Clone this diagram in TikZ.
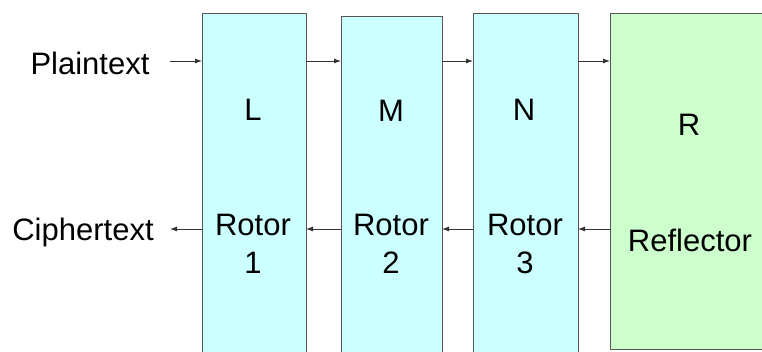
\documentclass[tikz,border=0pt]{standalone}
\usepackage{fontspec}
\setmainfont{Liberation Sans}
\usetikzlibrary{arrows.meta}
\definecolor{rotorfill}{HTML}{CCFFFF}
\definecolor{reflfill}{HTML}{CCFFCC}
\definecolor{boxline}{HTML}{555555}
\begin{document}
\begin{tikzpicture}[x=1pt,y=-1pt,
  box/.style={draw=boxline,line width=1pt,inner sep=0pt,outer sep=0pt,anchor=north west,rectangle},
  lbl/.style={inner sep=0pt,font=\fontsize{31}{38}\selectfont},
  two/.style={lbl,align=center,anchor=north},
  conn/.style={draw=black!80,line width=0.8pt,-{Latex[length=7pt,width=5pt]}}]
\useasboundingbox (0,0) rectangle (762,351);
\clip (0,0) rectangle (762,351);
% boxes
\node[box,fill=rotorfill,minimum width=104pt,minimum height=390pt] (Lbox) at (202,13) {};
\node[box,fill=rotorfill,minimum width=101pt,minimum height=390pt] (Mbox) at (341,16) {};
\node[box,fill=rotorfill,minimum width=105pt,minimum height=390pt] (Nbox) at (473,13) {};
\node[box,fill=reflfill,minimum width=190pt,minimum height=336pt] (Rbox) at (610,13) {};
\coordinate (top) at (0,61);
\coordinate (bot) at (0,229);
\coordinate (pin) at (170,61);
\coordinate (cout) at (170,229);
% labels
\node[lbl,anchor=base] (pt) at (90,74) {Plaintext};
\node[lbl,anchor=base] (ct) at (83,240) {Ciphertext};
\node[lbl,anchor=base] (L) at (253,120) {L};
\node[lbl,anchor=base] (M) at (391,121) {M};
\node[lbl,anchor=base] (N) at (524,120) {N};
\node[lbl,anchor=base] (R) at (689,135) {R};
\node[two] (r1) at (253,214) {Rotor\\1};
\node[two] (r2) at (391,214) {Rotor\\2};
\node[two] (r3) at (525,214) {Rotor\\3};
\node[lbl,anchor=base] (refl) at (690,251) {Reflector};
% connectors
\draw[conn] (pin) -- (Lbox.west |- top);
\draw[conn] (Lbox.east |- top) -- (Mbox.west |- top);
\draw[conn] (Mbox.east |- top) -- (Nbox.west |- top);
\draw[conn] (Nbox.east |- top) -- (Rbox.west |- top);
\draw[conn] (Rbox.west |- bot) -- (Nbox.east |- bot);
\draw[conn] (Nbox.west |- bot) -- (Mbox.east |- bot);
\draw[conn] (Mbox.west |- bot) -- (Lbox.east |- bot);
\draw[conn] (Lbox.west |- bot) -- (cout);
\end{tikzpicture}
\end{document}
